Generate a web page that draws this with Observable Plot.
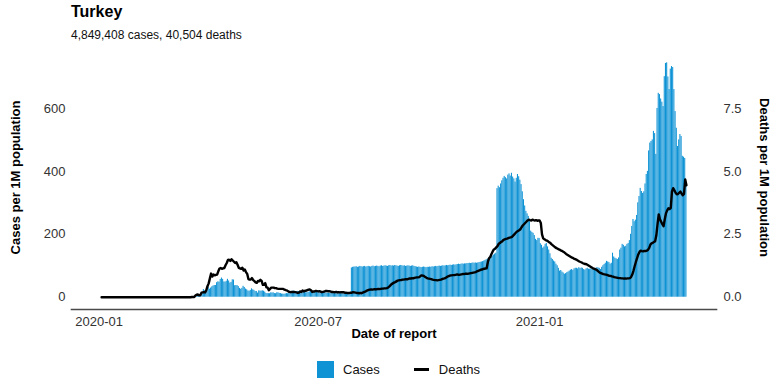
<!DOCTYPE html>
<html><head><meta charset="utf-8">
<script src="https://cdn.jsdelivr.net/npm/d3@7"></script>
<script src="https://cdn.jsdelivr.net/npm/@observablehq/plot@0.6"></script>
<style>
body{margin:0;background:#fff;font-family:"Liberation Sans",Arial,Helvetica,sans-serif;}
#wrap{position:relative;width:784px;height:392px;overflow:hidden;background:#fff;}
#chart{position:absolute;left:0;top:0;}
#title{position:absolute;left:71px;top:4px;font-size:16px;line-height:16px;font-weight:bold;color:#000;white-space:nowrap;}
#subtitle{position:absolute;left:71px;top:29px;font-size:12px;line-height:12px;color:#111;white-space:nowrap;}
#legend{position:absolute;left:317px;top:361px;height:17px;display:flex;align-items:center;font-size:13px;color:#111;}
.sq{width:17px;height:17px;}
.ln{width:15px;height:2.6px;background:#000;margin-left:34px;}
.lab1{margin-left:9px;}
.lab2{margin-left:10px;}
</style></head><body>
<div id="wrap">
  <div id="chart"></div>
  <div id="title"></div>
  <div id="subtitle"></div>
  <div id="legend"><div class="sq" id="sq"></div><span class="lab1" id="lab1"></span><div class="ln"></div><span class="lab2" id="lab2"></span></div>
</div>
<script>
// ---- Text ----
const titleText = "Turkey";
const subtitleText = "4,849,408 cases, 40,504 deaths";
const xLabel = "Date of report";
const yLabelLeft = "Cases per 1M population";
const yLabelRight = "Deaths per 1M population";
const legendLabels = ["Cases", "Deaths"];

// ---- Ticks ----
const xTickDates = ["2020-01-01", "2020-07-01", "2021-01-01"];
const casesTicks = [0, 200, 400, 600];
const deathsTicks = [0, 2.5, 5, 7.5];

// ---- Data: first day of each monthly block ----
const monthStart = ["2020-01-03","2020-02-01","2020-03-01","2020-04-01","2020-05-01","2020-06-01","2020-07-01","2020-08-01","2020-09-01","2020-10-01","2020-11-01","2020-12-01","2021-01-01","2021-02-01","2021-03-01","2021-04-01","2021-05-01"];

// daily cases per 1M population
const casesJan20 = [0,0,0,0,0,0,0,0,0,0, 0,0,0,0,0,0,0,0,0,0, 0,0,0,0,0,0,0,0,0];
const casesFeb20 = [0,0,0,0,0,0,0,0,0,0, 0,0,0,0,0,0,0,0,0,0, 0,0,0,0,0,0,0,0,0];
const casesMar20 = [0,0,0,0,0,0,0,0,0,0, 0,0.01,0,0.05,0.01,0.14,0.34,0.6,1.1,2, 3.7,3.3,3.4,3.5,4.1,6.7,14.2,24.5,20.2,21.5, 19.1];
const casesApr20 = [32.1,25.5,29.1,33,35.7,37.2,37.3,46.2,48.8,48.1, 56.3,61,56.8,48.6,48.2,50.8,57,51.6,44.9,47.2, 55.4,54.7,36.6,37,37,33.9,28,25.3,28.4,34.8];
const casesMay20 = [31,26,23.5,19.8,19.1,21.7,26.7,23.5,21.9,18.3, 18.3,13.2,20.2,19.4,19.4,20.3,19.1,16.2,12.1,11.5, 11.4,11.3,14.1,13.5,14,11.7,11.2,14.1,14,12.3, 11.7];
const casesJun20 = [10,9.8,9.3,10.3,11.7,11,11.7,13.5,14.2,18.9, 19.3,18.3,17.3,18.5,18.1,17.4,17,15.5,14.4,14.8, 14.4,14.4,15.3,17.3,17.7,17.4,17.3,16.1,16.3,15.3];
const casesJul20 = [14.1,14.5,13.6,13.1,14.2,14.4,14,13,13.1,12.6, 12.4,12.2,12,11.5,11,11.4,11,11.2,11.1,11.3, 10.9,11,10.4,10.6,10.9,10.1,10.7,11.2,93,95, 96];
const casesAug20 = [96,97,95,96,98,97,96,97,98,96, 97,98,97,96,98,99,97,98,99,98, 97,99,100,98,99,100,99,98,100,101, 99];
const casesSep20 = [100,99,101,100,99,98,100,101,100,99, 100,98,99,100,99,98,99,100,98,97, 96,95,96,95,94,95,96,95,94,95];
const casesOct20 = [95,96,95,97,96,97,98,97,98,99, 98,99,100,99,100,101,100,101,102,101, 102,103,102,103,104,105,104,105,106,105, 106];
const casesNov20 = [106,107,107,108,107,108,109,108,109,108, 109,110,111,112,113,115,117,119,121,124, 126,128,131,134,137,140,345,353,348,360];
const casesDec20 = [370,378,384,380,376,388,392,385,394,382, 376,366,378,390,383,372,358,335,310,290, 273,265,257,240,210,206,203,196,184,180, 187];
const casesJan21 = [187,170,165,156,160,168,171,160,150,138, 124,120,115,112,105,100,92,83,85,80, 77,73,75,78,80,83,86,88,85,90, 92];
const casesFeb21 = [92,90,94,91,93,92,88,86,90,92, 89,89,90,88,87,90,92,94,93,92, 88,95,100,104,108,114,112,110];
const casesMar21 = [105,108,140,128,124,122,120,125,150,156, 168,165,160,162,168,171,180,200,225,247, 240,245,260,300,320,346,336,330,335,360, 390];
const casesApr21 = [400,465,490,495,500,527,520,454,600,648, 644,630,620,606,701,743,745,700,660,725, 733,730,660,590,537,479,500,517,511,448];
const casesMay21 = [445,441,365];

// daily deaths per 1M population
const deathsJan20 = [0,0,0,0,0,0,0,0,0,0, 0,0,0,0,0,0,0,0,0,0, 0,0,0,0,0,0,0,0,0];
const deathsFeb20 = [0,0,0,0,0,0,0,0,0,0, 0,0,0,0,0,0,0,0,0,0, 0,0,0,0,0,0,0,0,0];
const deathsMar20 = [0,0,0,0,0,0,0,0,0,0, 0,0,0,0,0,0,0,0.01,0.01,0.01, 0.07,0.1,0.11,0.08,0.08,0.18,0.19,0.2,0.19,0.27, 0.44];
const deathsApr20 = [0.55,0.75,0.94,0.82,0.9,0.87,0.89,0.9,1.03,1.14, 1.16,1.13,1.15,1.16,1.27,1.36,1.48,1.49,1.44,1.51, 1.46,1.41,1.36,1.39,1.29,1.17,1.15,1.13,1.17,1.06];
const deathsMay20 = [1.1,1,0.93,0.72,0.7,0.7,0.76,0.68,0.64,0.59, 0.57,0.65,0.63,0.69,0.65,0.49,0.49,0.56,0.39,0.38, 0.28,0.33,0.38,0.38,0.38,0.36,0.36,0.34,0.33,0.33, 0.33];
const deathsJun20 = [0.33,0.33,0.3,0.28,0.27,0.24,0.21,0.2,0.21,0.21, 0.21,0.2,0.19,0.17,0.18,0.23,0.21,0.27,0.23,0.26, 0.26,0.28,0.3,0.31,0.28,0.21,0.23,0.23,0.25,0.24];
const deathsJul20 = [0.23,0.24,0.22,0.2,0.21,0.22,0.25,0.25,0.24,0.24, 0.23,0.21,0.21,0.2,0.2,0.21,0.19,0.2,0.19,0.2, 0.2,0.2,0.18,0.18,0.17,0.17,0.17,0.18,0.18,0.2, 0.19];
const deathsAug20 = [0.18,0.17,0.17,0.16,0.17,0.16,0.18,0.2,0.22,0.25, 0.27,0.29,0.3,0.31,0.3,0.31,0.32,0.31,0.32,0.33, 0.32,0.33,0.34,0.34,0.35,0.35,0.36,0.38,0.42,0.47, 0.52];
const deathsSep20 = [0.55,0.58,0.6,0.63,0.66,0.67,0.68,0.68,0.7,0.7, 0.71,0.72,0.71,0.73,0.75,0.74,0.76,0.75,0.77,0.78, 0.79,0.79,0.8,0.84,0.87,0.86,0.84,0.8,0.77,0.75];
const deathsOct20 = [0.74,0.73,0.72,0.7,0.69,0.68,0.68,0.67,0.68,0.69, 0.7,0.72,0.74,0.75,0.77,0.8,0.83,0.85,0.87,0.87, 0.88,0.88,0.89,0.9,0.9,0.89,0.9,0.91,0.92,0.92, 0.93];
const deathsNov20 = [0.93,0.93,0.94,0.95,0.96,0.97,0.98,0.99,1,1.03, 1.05,1.07,1.09,1.1,1.12,1.13,1.14,1.15,1.4,1.55, 1.6,1.72,1.82,1.9,1.93,1.98,2.03,2.12,2.15,2.2];
const deathsDec20 = [2.22,2.28,2.3,2.32,2.33,2.35,2.37,2.38,2.4,2.45, 2.5,2.55,2.6,2.63,2.66,2.7,2.78,2.85,2.9,2.95, 3,3.05,3.08,3.06,3.05,3.08,3.06,3.05,3.06,3.04, 3.05];
const deathsJan21 = [3.05,2.95,2.5,2.34,2.3,2.27,2.25,2.22,2.18,2.15, 2.1,2.06,2.02,1.98,1.95,1.93,1.9,1.88,1.85,1.83, 1.8,1.76,1.72,1.69,1.66,1.63,1.6,1.57,1.55,1.52, 1.5];
const deathsFeb21 = [1.48,1.45,1.42,1.4,1.38,1.35,1.33,1.32,1.31,1.28, 1.25,1.22,1.19,1.16,1.14,1.12,1.1,1.06,1.02,0.98, 0.96,0.94,0.92,0.91,0.9,0.89,0.87,0.85];
const deathsMar21 = [0.85,0.83,0.82,0.8,0.79,0.78,0.77,0.76,0.76,0.75, 0.75,0.74,0.75,0.74,0.75,0.75,0.76,0.8,0.9,1.05, 1.23,1.4,1.55,1.7,1.8,1.85,1.83,1.82,1.84,1.83, 1.85];
const deathsApr21 = [1.88,1.95,2.08,2.14,2.16,2.2,2.22,2.46,2.9,3.29, 3.1,3,2.9,2.82,3.1,3.33,3.45,3.53,3.5,3.55, 4.2,4.33,4.25,4.15,4.09,4.1,4.15,4.2,4.12,4.05];
const deathsMay21 = [4.1,4.68,4.45];

const casesBlocks = [casesJan20,casesFeb20,casesMar20,casesApr20,casesMay20,casesJun20,casesJul20,casesAug20,casesSep20,casesOct20,casesNov20,casesDec20,casesJan21,casesFeb21,casesMar21,casesApr21,casesMay21];
const deathsBlocks = [deathsJan20,deathsFeb20,deathsMar20,deathsApr20,deathsMay20,deathsJun20,deathsJul20,deathsAug20,deathsSep20,deathsOct20,deathsNov20,deathsDec20,deathsJan21,deathsFeb21,deathsMar21,deathsApr21,deathsMay21];

// ---- Build table ----
const DAY = 864e5;
const rows = [];
monthStart.forEach((s, m) => {
  const t0 = new Date(s + "T00:00:00Z").getTime();
  casesBlocks[m].forEach((c, i) => {
    const t = t0 + i * DAY;
    rows.push({date: new Date(t), x1: new Date(t - DAY / 2), x2: new Date(t + DAY / 2), cases: c, deaths: deathsBlocks[m][i]});
  });
});

// secondary axis: 7.5 deaths <-> 600 cases
const deathScale = casesTicks[3] / deathsTicks[3];
const blue = "#0f93d5";

document.getElementById("title").textContent = titleText;
document.getElementById("subtitle").textContent = subtitleText;
document.getElementById("sq").style.background = blue;
document.getElementById("lab1").textContent = legendLabels[0];
document.getElementById("lab2").textContent = legendLabels[1];

const chart = Plot.plot({
  width: 784,
  height: 345,
  marginTop: 45,
  marginBottom: 36,
  marginLeft: 71,
  marginRight: 68,
  style: {fontFamily: "'Liberation Sans', Arial, sans-serif", fontSize: "13px", color: "#333", background: "transparent", overflow: "visible"},
  x: {type: "utc", domain: [new Date("2019-12-09T00:00:00Z"), new Date("2021-05-28T00:00:00Z")]},
  y: {domain: [-39, 800]},
  marks: [
    Plot.rectY(rows, {x1: "x1", x2: "x2", y1: 0, y2: "cases", fill: blue, insetLeft: 0.07, insetRight: 0.07}),
    Plot.lineY(rows, {x: "date", y: d => d.deaths * deathScale, stroke: "#000", strokeWidth: 2.4, strokeLinejoin: "round"}),
    Plot.frame({anchor: "bottom", stroke: "#4a4a4a", strokeWidth: 1.6}),
    Plot.axisX({ticks: xTickDates.map(s => new Date(s + "T00:00:00Z")), tickFormat: d3.utcFormat("%Y-%m"), tickSize: 0, tickPadding: 7, label: null}),
    Plot.axisY({anchor: "left", ticks: casesTicks, tickFormat: d => String(d), tickSize: 0, tickPadding: 6, label: null}),
    Plot.axisY({anchor: "right", ticks: deathsTicks.map(v => v * deathScale), tickFormat: v => d3.format(".1f")(v / deathScale), tickSize: 0, tickPadding: 7, label: null}),
    Plot.text([xLabel], {text: d => d, frameAnchor: "bottom", dy: 24, textAnchor: "middle", lineAnchor: "middle", fontWeight: "bold", fontSize: 13, fill: "#000"}),
    Plot.text([yLabelLeft], {text: d => d, frameAnchor: "left", dx: -56, textAnchor: "middle", lineAnchor: "middle", rotate: -90, fontWeight: "bold", fontSize: 13, fill: "#000"}),
    Plot.text([yLabelRight], {text: d => d, frameAnchor: "right", dx: 48, textAnchor: "middle", lineAnchor: "middle", rotate: 90, fontWeight: "bold", fontSize: 13, fill: "#000"})
  ]
});
document.getElementById("chart").appendChild(chart);
</script>
</body></html>
